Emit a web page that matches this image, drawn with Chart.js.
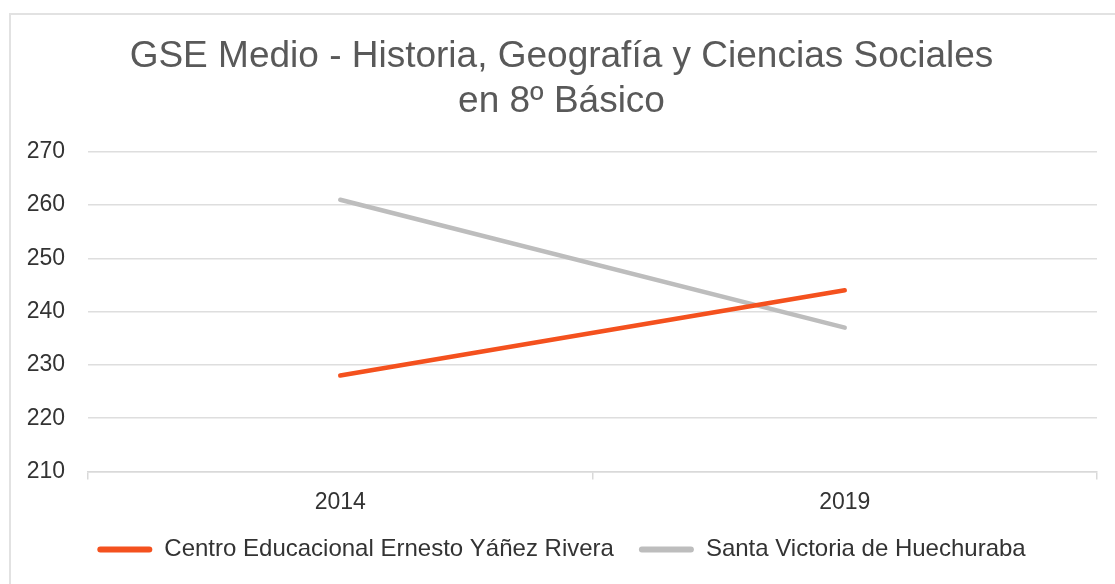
<!DOCTYPE html>
<html>
<head>
<meta charset="utf-8">
<script src="https://cdn.jsdelivr.net/npm/chart.js@4"></script>
<style>
  html, body { margin: 0; padding: 0; background: #fff; }
  #wrap { position: relative; width: 1115px; height: 584px; overflow: hidden; }
  #frame { position: absolute; left: 9px; top: 13px; width: 1200px; height: 700px;
           border-top: 2px solid #e2e2e2; border-left: 2px solid #e2e2e2; pointer-events: none; }
</style>
</head>
<body>
<div id="wrap">
  <canvas id="gseChart" width="1115" height="584"></canvas>
  <div id="frame"></div>
</div>
<script>
const years = ['2014', '2019'];
const centroValues = [228, 244];
const santaVictoriaValues = [261, 237];
const seriesNames = ['Centro Educacional Ernesto Yáñez Rivera', 'Santa Victoria de Huechuraba'];
const titleLines = ['GSE Medio - Historia, Geografía y Ciencias Sociales', 'en 8º Básico'];

Chart.defaults.font.family = '"Liberation Sans", Arial, sans-serif';

const ctx = document.getElementById('gseChart').getContext('2d');
const gseChart = new Chart(ctx, {
    type: 'line',
    data: {
        labels: years,
        datasets: [{
            label: seriesNames[0],
            data: centroValues,
            borderColor: '#f4511e',
            backgroundColor: '#f4511e',
            borderWidth: 4.5,
            borderCapStyle: 'round',
            pointRadius: 0,
            tension: 0
        }, {
            label: seriesNames[1],
            data: santaVictoriaValues,
            borderColor: '#bdbdbd',
            backgroundColor: '#bdbdbd',
            borderWidth: 4.5,
            borderCapStyle: 'round',
            pointRadius: 0,
            tension: 0
        }]
    },
    options: {
        responsive: false,
        animation: false,
        layout: { padding: { left: 26, right: 18, top: 0, bottom: 12.5 } },
        scales: {
            x: {
                offset: true,
                grid: { offset: true, drawOnChartArea: false, drawTicks: true, tickLength: 8, color: '#d9d9d9', lineWidth: 1.5 },
                border: { display: true, color: '#d9d9d9', width: 1.5 },
                ticks: { color: '#333', font: { size: 23 }, padding: 9 },
                afterFit: (scale) => { scale.height = 41; }
            },
            y: {
                min: 210,
                max: 270,
                ticks: { stepSize: 10, color: '#333', font: { size: 23 }, padding: 23 },
                grid: { color: '#dedede', lineWidth: 1.5, drawTicks: false },
                border: { display: false },
                afterFit: (scale) => { scale.width = 62; }
            }
        },
        plugins: {
            title: {
                display: true,
                text: titleLines,
                color: '#595959',
                font: { size: 37, weight: 'normal' },
                lineHeight: 1.2,
                padding: { top: 35, bottom: 28 }
            },
            legend: {
                display: true,
                position: 'bottom',
                labels: {
                    color: '#333',
                    font: { size: 24 },
                    boxWidth: 55,
                    boxHeight: 6,
                    padding: 25,
                    generateLabels: (chart) => Chart.defaults.plugins.legend.labels.generateLabels(chart).map(item => ({
                        ...item,
                        lineWidth: 0,
                        borderRadius: 3
                    }))
                }
            },
            tooltip: { enabled: false }
        }
    }
});
</script>
</body>
</html>
